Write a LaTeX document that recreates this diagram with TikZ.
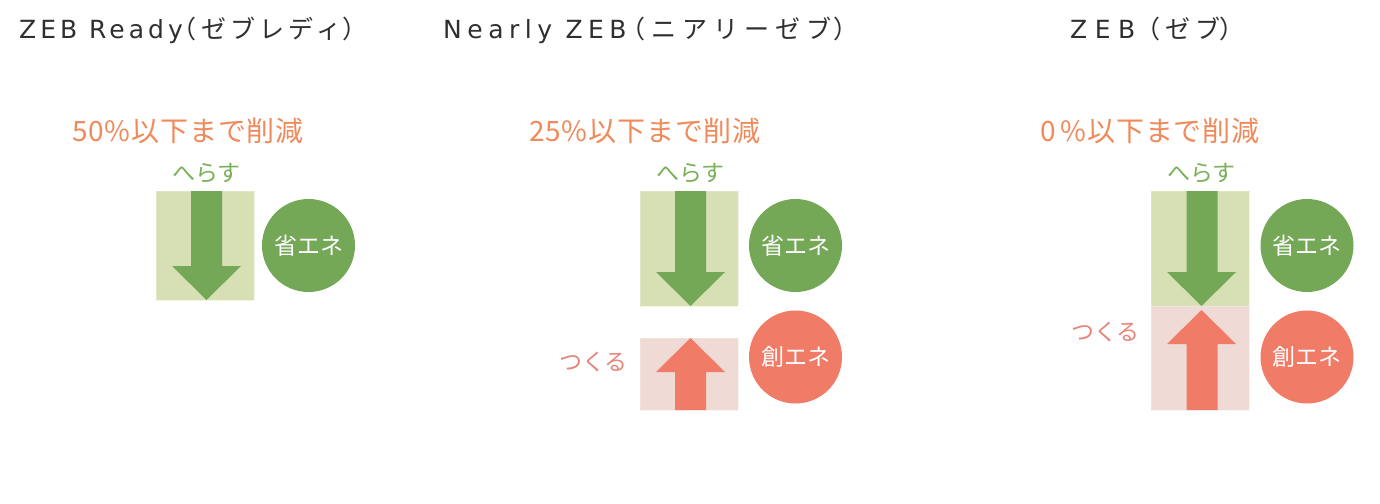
\documentclass[tikz,border=0pt]{standalone}
\usepackage{fontspec}
\setmainfont{Noto Sans CJK JP}
\newfontfamily\latA[LetterSpace=16]{DejaVu Sans}
\newfontfamily\latB[LetterSpace=22]{DejaVu Sans}
\newfontfamily\latC[LetterSpace=30]{DejaVu Sans}
\newfontfamily\jpA[LetterSpace=17]{Noto Sans CJK JP}
\newfontfamily\jpB[LetterSpace=24]{Noto Sans CJK JP}
\newfontfamily\jpC[LetterSpace=20]{Noto Sans CJK JP}
\newfontfamily\hdl[LetterSpace=3]{Noto Sans CJK JP}
\definecolor{grn}{HTML}{74A857}
\definecolor{grnbox}{HTML}{D7DFB5}
\definecolor{sal}{HTML}{F07C68}
\definecolor{pinkbox}{HTML}{EFDAD5}
\definecolor{hdcol}{HTML}{F08A5B}
\definecolor{grntxt}{HTML}{7AB05A}
\definecolor{saltxt}{HTML}{E8857A}
\definecolor{ttlcol}{HTML}{2F2F2F}
\tikzset{
  ttl/.style={anchor=base west, inner sep=0pt, text=ttlcol, font=\fontsize{25}{30}\selectfont},
  hd/.style={anchor=base west, inner sep=0pt, text=hdcol, font=\hdl\fontsize{28}{32}\selectfont},
  gbox/.style={fill=grnbox, draw=grnbox!60!white, dash pattern=on 1pt off 1pt, inner sep=0pt, outer sep=0pt, minimum width=98pt},
  pbox/.style={fill=pinkbox, draw=pinkbox!60!white, dash pattern=on 1pt off 1pt, inner sep=0pt, outer sep=0pt, minimum width=98pt},
  gcirc/.style={circle, fill=grn, inner sep=0pt, minimum size=93pt, text=white, font=\fontsize{23}{26}\selectfont},
  scirc/.style={circle, fill=sal, inner sep=0pt, minimum size=93pt, text=white, font=\fontsize{23}{26}\selectfont},
  glab/.style={inner sep=0pt, text=grntxt, font=\fontsize{23}{26}\selectfont},
  slab/.style={inner sep=0pt, text=saltxt, font=\fontsize{23}{26}\selectfont},
}
\begin{document}
\begin{tikzpicture}[x=1pt,y=-1pt]
\useasboundingbox[fill=white] (0,0) rectangle (1380,503);
% titles
\node[ttl] (t1) at (19,38) {{\latA ZEB Ready}\kern-11pt{\jpA （ゼブレディ\kern1pt）}};
\node[ttl] (t2) at (443,38) {{\latB Nearly ZEB}\kern-6pt{\jpB （ニアリーゼブ\kern2pt）}};
\node[ttl] (t3) at (1070,38) {{\latC ZEB}\kern0pt{\jpC （ゼブ\kern-1pt）}};
% headlines
\node[hd] (h1) at (72,141) {50\%以下まで削減};
\node[hd] (h2) at (529,141) {25\%以下まで削減};
\node[hd] (h3) at (1040,141) {0\kern5pt\%以下まで削減};
% panel 1
\node[gbox, minimum height=109pt] (b1) at (205,245.5) {};
\fill[grn] (191,191) -- (222,191) -- (222,266) -- (241,266) -- (206.5,300) -- (172,266) -- (191,266) -- cycle;
\node[glab] (l1) at (206.5,173) {へらす};
\node[gcirc] (c1) at (308.5,245.5) {省エネ};
% panel 2
\node[gbox, minimum height=115pt] (b2) at (689,248.5) {};
\fill[grn] (675,191) -- (706,191) -- (706,272) -- (725,272) -- (690.5,306) -- (656,272) -- (675,272) -- cycle;
\node[pbox, minimum height=72pt] (b2p) at (689,374) {};
\fill[sal] (675,410) -- (706,410) -- (706,372) -- (725,372) -- (690.5,338) -- (656,372) -- (675,372) -- cycle;
\node[glab] (l2) at (690.5,173) {へらす};
\node[slab, anchor=east] (l2p) at (628,362) {つくる};
\node[gcirc] (c2) at (795.5,245.5) {省エネ};
\node[scirc] (c2p) at (795.5,357) {創エネ};
% panel 3
\node[gbox, minimum height=115pt] (b3) at (1200,248.5) {};
\node[pbox, minimum height=104pt] (b3p) at (1200,358) {};
\fill[grn] (1186.5,191) -- (1217.5,191) -- (1217.5,272) -- (1236,272) -- (1201.5,306) -- (1167,272) -- (1186.5,272) -- cycle;
\fill[sal] (1186.5,410) -- (1217.5,410) -- (1217.5,344) -- (1236,344) -- (1201.5,310) -- (1167,344) -- (1186.5,344) -- cycle;
\node[glab] (l3) at (1201.5,173) {へらす};
\node[slab, anchor=east] (l3p) at (1140,332) {つくる};
\node[gcirc] (c3) at (1307,245.5) {省エネ};
\node[scirc] (c3p) at (1307,357) {創エネ};
\end{tikzpicture}
\end{document}
